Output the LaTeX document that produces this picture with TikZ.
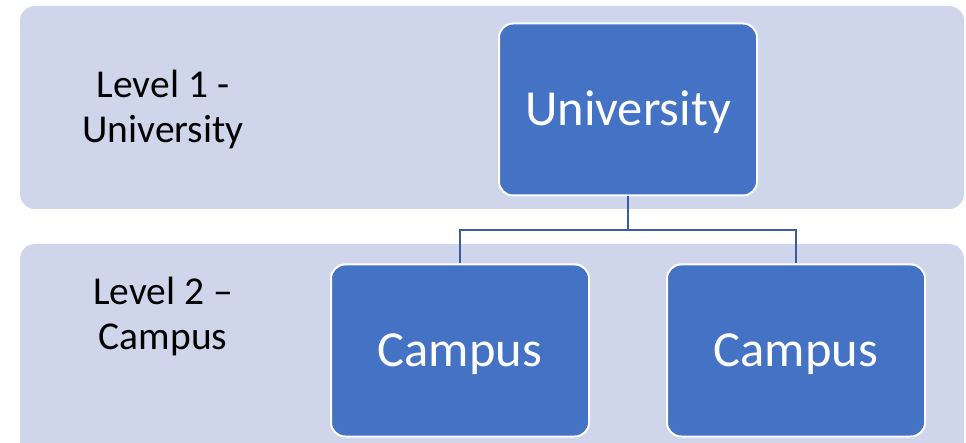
\documentclass[tikz,border=0pt]{standalone}
\usepackage{fontspec}
\setmainfont{Carlito}
\definecolor{bandfill}{HTML}{CFD5EA}
\definecolor{boxfill}{HTML}{4472C4}
\definecolor{linkcol}{HTML}{3A5CA2}
\begin{document}
\begin{tikzpicture}[x=1pt,y=-1pt,
  band/.style={fill=bandfill,rounded corners=15pt},
  unitbox/.style={draw=white,line width=2pt,fill=boxfill,rounded corners=14pt,
    minimum width=258pt,minimum height=172pt,text=white,
    text height=40pt,text depth=8pt,
    font=\fontsize{50.5}{60}\selectfont,inner sep=0pt},
  lvl/.style={align=center,font=\fontsize{39.5}{45}\selectfont,text=black},
  link/.style={draw=linkcol,line width=2.3pt}]
\useasboundingbox (0,0) rectangle (966,443);
\begin{scope}
\clip (0,0) rectangle (966,443);
\fill[band] (20,6) rectangle (964,209);
\fill[band] (20,244) rectangle (964,470);
\end{scope}
\node[lvl] (l1) at (163,109) {Level 1 -\\University};
\node[lvl] (l2) at (163,316) {Level 2 –\\Campus};
\node[unitbox] (u) at (628,109.5) {University};
\node[unitbox] (c1) at (460,350.5) {Campus};
\node[unitbox] (c2) at (796,350.5) {Campus};
\coordinate (m) at (628,230);
\draw[link] (u.south) -- (m);
\draw[link] (c1.north) |- (m) -| (c2.north);
\end{tikzpicture}
\end{document}
